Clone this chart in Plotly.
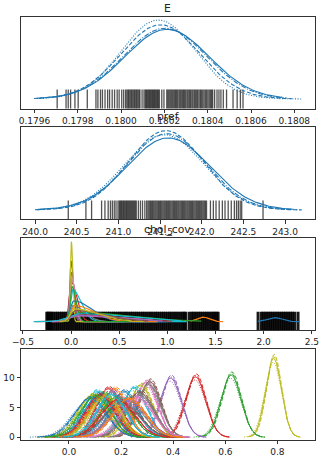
import numpy as np
import plotly.graph_objects as go

# ---------------- data ----------------
# E : four chains (solid, dashed, dotted, dash-dot)
E_center = [0.180212, 0.180182, 0.180172, 0.180203]
E_sd = [0.000195, 0.000183, 0.000172, 0.000192]
E_lo = [0.179620, 0.179598, 0.179640, 0.179610]
E_hi = [0.180745, 0.180790, 0.180834, 0.180765]
E_rug = [0.179705, 0.179746, 0.179756, 0.179767, 0.179787, 0.179802, 0.179844,
         0.179884, 0.179893, 0.179905, 0.179914, 0.179926, 0.179938, 0.179947, 0.179959,
         0.179970, 0.179982, 0.179991, 0.180003, 0.180012, 0.180021,
         0.180027, 0.180032, 0.180036, 0.180041, 0.180046, 0.180050, 0.180055, 0.180060,
         0.180064, 0.180069, 0.180073, 0.180078, 0.180083, 0.180087,
         0.180097, 0.180106,
         0.180112, 0.180117, 0.180121, 0.180126, 0.180131, 0.180135, 0.180140, 0.180145,
         0.180149, 0.180154, 0.180158, 0.180163, 0.180168, 0.180172, 0.180177,
         0.180188, 0.180198,
         0.180211, 0.180216, 0.180221, 0.180226, 0.180231, 0.180236, 0.180241, 0.180247,
         0.180252, 0.180257, 0.180262, 0.180268, 0.180273, 0.180278, 0.180284, 0.180289,
         0.180294, 0.180299, 0.180305, 0.180310, 0.180316, 0.180321, 0.180327, 0.180332,
         0.180338, 0.180343, 0.180349, 0.180354, 0.180360, 0.180366, 0.180371, 0.180377,
         0.180383, 0.180389, 0.180395, 0.180401, 0.180407, 0.180413, 0.180418, 0.180423,
         0.180432, 0.180443, 0.180452, 0.180461, 0.180472, 0.180487,
         0.180517, 0.180536, 0.180551, 0.180563]

# pref : four chains
pref_center = [241.60, 241.57, 241.55, 241.58]
pref_sd = [0.497, 0.452, 0.476, 0.470]
pref_lo = [240.02, 240.00, 240.06, 240.03]
pref_hi = [243.10, 243.20, 243.02, 243.15]
pref_rug = [240.399, 240.611, 240.679, 240.799, 240.839, 240.878,
            240.905, 240.928, 240.951, 240.972, 240.996, 241.012,
            241.024, 241.036, 241.047, 241.060, 241.071, 241.083, 241.096, 241.107,
            241.119, 241.131, 241.143, 241.155, 241.167, 241.179, 241.191, 241.203, 241.215,
            241.240, 241.265, 241.290, 241.318, 241.340,
            241.356, 241.370, 241.384, 241.398, 241.411, 241.425, 241.439, 241.452,
            241.466, 241.480, 241.494, 241.507, 241.521, 241.535, 241.549, 241.562,
            241.576, 241.590, 241.604, 241.617, 241.631, 241.645, 241.659, 241.672,
            241.686, 241.700, 241.714, 241.727, 241.741, 241.755, 241.769, 241.782,
            241.796, 241.810, 241.824, 241.837, 241.851, 241.865, 241.879, 241.892,
            241.906, 241.920, 241.934, 241.947, 241.961, 241.975, 241.989, 242.002,
            242.016, 242.030, 242.044, 242.058,
            242.105, 242.140, 242.172, 242.210, 242.248, 242.280, 242.318, 242.355,
            242.392, 242.418, 242.440, 242.462, 242.480, 242.736]

# chol_cov : one density per element
chol_color = ["#1f77b4", "#ff7f0e", "#2ca02c", "#d62728", "#9467bd", "#8c564b",
              "#e377c2", "#7f7f7f", "#bcbd22", "#17becf", "#1f77b4", "#ff7f0e",
              "#2ca02c", "#d62728", "#e377c2", "#9467bd", "#17becf", "#8c564b",
              "#bcbd22"]
chol_center = [2.115, 1.37, 0.03, 0.0, 0.003, 0.0, 0.006, 0.02, 0.003, 0.015,
               0.03, 0.04, 0.01, 0.05, 0.06, 0.08, 0.10, 0.05, 0.03]
chol_sd_left = [0.075, 0.06, 0.05, 0.02, 0.015, 0.012, 0.016, 0.03, 0.010, 0.022,
                0.04, 0.04, 0.018, 0.06, 0.08, 0.10, 0.12, 0.05, 0.04]
chol_sd_right = [0.08, 0.065, 0.55, 0.06, 0.03, 0.025, 0.035, 0.12, 0.014, 0.09,
                 0.18, 0.20, 0.04, 0.45, 0.50, 0.40, 0.50, 0.30, 0.25]
chol_peak = [1.25, 1.45, 3.0, 12.5, 15.5, 19.0, 14.0, 5.0, 25.0, 10.0,
             6.5, 5.0, 11.0, 2.2, 1.8, 2.0, 2.5, 3.5, 4.0]
chol_lo = [1.94, 1.24, -0.08, -0.37, -0.15, -0.12, -0.18, -0.20, -0.10, -0.39,
           -0.22, -0.15, -0.10, -0.20, -0.20, -0.15, -0.25, -0.10, -0.12]
chol_hi = [2.374, 1.58, 1.354, 0.45, 0.55, 0.50, 0.80, 0.90, 0.35, 1.20,
           1.00, 0.90, 0.60, 1.05, 0.85, 0.95, 1.15, 0.80, 0.75]
chol_rug = [-0.252, -0.241, -0.229, -0.214,
            -0.200, -0.181, -0.160, -0.141, -0.121, -0.100, -0.081, -0.061, -0.040, -0.021,
            -0.001, 0.019, 0.040, 0.059, 0.080, 0.099, 0.120, 0.139, 0.160, 0.180, 0.199,
            0.220, 0.241, 0.259, 0.280, 0.300, 0.321, 0.339, 0.360, 0.381, 0.399, 0.420,
            0.440, 0.459, 0.480, 0.501, 0.519, 0.540, 0.560, 0.579, 0.600, 0.621, 0.639,
            0.660, 0.680, 0.699, 0.720, 0.741, 0.759, 0.780, 0.800, 0.821, 0.839, 0.860,
            0.880, 0.899, 0.920, 0.941, 0.959, 0.980, 1.000, 1.021, 1.039, 1.060, 1.080,
            1.099, 1.120, 1.140, 1.159, 1.176, 1.190,
            1.226, 1.251, 1.268, 1.287, 1.306, 1.326, 1.345, 1.364, 1.384, 1.403, 1.422,
            1.442, 1.461, 1.479, 1.494, 1.512, 1.527,
            1.942, 1.977, 1.996, 2.015, 2.034, 2.053, 2.072, 2.091, 2.110, 2.129, 2.148,
            2.167, 2.186, 2.205, 2.224, 2.243, 2.262, 2.281, 2.300, 2.322, 2.357]

# fourth variable : one density per element, four chains each
w_center = [0.785, 0.622, 0.485, 0.39, 0.31, 0.295, 0.305, 0.275, 0.25, 0.27,
            0.21, 0.175, 0.15, 0.165, 0.13, 0.105, 0.115, 0.09, 0.20, 0.22,
            0.13, 0.12, 0.18, 0.20, 0.23, 0.20, 0.27, 0.26, 0.08, 0.14,
            0.10, 0.185, 0.23, 0.16]
w_peak = [13.2, 10.4, 10.1, 9.9, 9.3, 9.1, 8.8, 8.6, 8.2, 7.5,
          7.6, 8.0, 8.1, 7.6, 7.3, 7.6, 7.2, 7.0, 6.5, 6.3,
          6.8, 7.0, 6.6, 6.2, 6.0, 5.8, 7.0, 6.6, 6.5, 6.9,
          6.9, 6.2, 6.4, 7.1]
w_color = ["#bcbd22", "#2ca02c", "#d62728", "#9467bd", "#8c564b", "#e377c2", "#7f7f7f",
           "#bcbd22", "#17becf", "#8c564b", "#1f77b4", "#ff7f0e", "#d62728", "#9467bd",
           "#2ca02c", "#17becf", "#1f77b4", "#bcbd22", "#e377c2", "#7f7f7f", "#ff7f0e",
           "#d62728", "#2ca02c", "#17becf", "#9467bd", "#8c564b", "#7f7f7f", "#e377c2",
           "#1f77b4", "#bcbd22", "#2ca02c", "#d62728", "#ff7f0e", "#17becf"]

chain_dash = ["solid", "4px,2px", "1px,1.6px", "5px,1.6px,1px,1.6px"]
chain_peak = [1.0, 1.05, 0.95, 1.02]
chain_shift = [0.0, 0.08, -0.06, 0.04]
chain_lo = [3.3, 3.0, 3.5, 3.1]
chain_hi = [3.2, 3.5, 3.0, 3.4]

titles = ["E", "pref", "chol_cov"]

# ---------------- figure ----------------
W, H = 322, 458
SQ2PI = np.sqrt(2 * np.pi)
FONT = "DejaVu Sans"
BLUE = "#1f77b4"


def gauss(c, sd, lo, hi, n=160):
    x = np.linspace(lo, hi, n)
    return x, np.exp(-0.5 * ((x - c) / sd) ** 2) / (sd * SQ2PI)


def split_gauss(c, sl, sr, pk, lo, hi, n=220):
    x = np.linspace(lo, hi, n)
    s = np.where(x < c, sl, sr)
    return x, pk * np.exp(-0.5 * ((x - c) / s) ** 2)


fig = go.Figure()


def rug(vals, ax, size, width, color):
    fig.add_trace(go.Scatter(x=vals, y=[0] * len(vals), mode="markers",
                             xaxis="x" + ax, yaxis="y" + ax, hoverinfo="skip",
                             marker=dict(symbol="line-ns-open", size=size, color=color,
                                         line=dict(width=width, color=color))))


# panel 1
rug(E_rug, "", 13.6, 1.3, "rgba(0,0,0,0.68)")
E_max = 0
for i in range(4):
    x, y = gauss(E_center[i], E_sd[i], E_lo[i], E_hi[i])
    E_max = max(E_max, y.max())
    fig.add_trace(go.Scatter(x=x, y=y, mode="lines", xaxis="x", yaxis="y",
                             line=dict(color=BLUE, width=1.1, dash=chain_dash[i])))
# panel 2
rug(pref_rug, "2", 13.6, 1.3, "rgba(0,0,0,0.68)")
p_max = 0
for i in range(4):
    x, y = gauss(pref_center[i], pref_sd[i], pref_lo[i], pref_hi[i])
    p_max = max(p_max, y.max())
    fig.add_trace(go.Scatter(x=x, y=y, mode="lines", xaxis="x2", yaxis="y2",
                             line=dict(color=BLUE, width=1.1, dash=chain_dash[i])))
# panel 3
rug(chol_rug, "3", 14.3, 3, "rgba(0,0,0,0.9)")
c_max = 0
for i in range(len(chol_center)):
    x, y = split_gauss(chol_center[i], chol_sd_left[i], chol_sd_right[i], chol_peak[i],
                       chol_lo[i], chol_hi[i])
    c_max = max(c_max, y.max())
    fig.add_trace(go.Scatter(x=x, y=y, mode="lines", xaxis="x3", yaxis="y3",
                             line=dict(color=chol_color[i], width=1.2)))
# panel 4
for i in range(len(w_center)):
    sd0 = 1.0 / (w_peak[i] * SQ2PI)
    for c in range(4):
        sd = sd0 / chain_peak[c]
        cen = w_center[i] + chain_shift[c] * sd0
        x, y = gauss(cen, sd, cen - chain_lo[c] * sd, cen + chain_hi[c] * sd)
        fig.add_trace(go.Scatter(x=x, y=y, mode="lines", xaxis="x4", yaxis="y4",
                                 line=dict(color=w_color[i], width=1.0, dash=chain_dash[c])))


def ydom(top, bot):
    return [1 - bot / H, 1 - top / H]


def yrange(vmax, top, bot, base, peak):
    u = vmax / (base - peak)
    return [-(bot - base) * u, (base - top) * u]


XD = [21 / W, 314.7 / W]
ax_style = dict(showline=True, linecolor="#333", linewidth=0.9, mirror=True,
                ticks="outside", ticklen=3.5, tickwidth=0.9, tickcolor="#333",
                tickfont=dict(family=FONT, size=9, color="#222"),
                showgrid=False, zeroline=False, automargin=False)
ny = dict(ax_style, ticks="", showticklabels=False)

panels = [(16.7, 109, 99, 20), (127.3, 219.3, 210, 130.7), (238.3, 330, 321.7, 241.7),
          (349.3, 440, None, None)]

fig.update_layout(
    width=W, height=H, margin=dict(l=0, r=0, t=0, b=0, autoexpand=False),
    paper_bgcolor="white", plot_bgcolor="white", showlegend=False,
    xaxis=dict(ax_style, domain=XD, anchor="y", range=[0.179538, 0.180894],
               dtick=0.0002, tick0=0.1796, tickformat=".4f"),
    yaxis=dict(ny, domain=ydom(*panels[0][:2]), anchor="x",
               range=yrange(E_max, *panels[0])),
    xaxis2=dict(ax_style, domain=XD, anchor="y2", range=[239.832, 243.356],
                dtick=0.5, tick0=240, tickformat=".1f"),
    yaxis2=dict(ny, domain=ydom(*panels[1][:2]), anchor="x2",
                range=yrange(p_max, *panels[1])),
    xaxis3=dict(ax_style, domain=XD, anchor="y3", range=[-0.52, 2.53],
                dtick=0.5, tick0=0, tickformat=".1f"),
    yaxis3=dict(ny, domain=ydom(*panels[2][:2]), anchor="x3",
                range=yrange(c_max, *panels[2])),
    xaxis4=dict(ax_style, domain=XD, anchor="y4", range=[-0.184, 0.943],
                dtick=0.2, tick0=0, tickformat=".1f"),
    yaxis4=dict(ax_style, domain=ydom(*panels[3][:2]), anchor="x4", range=[-0.45, 14.7],
                tickvals=[0, 5, 10]),
)

title_y = [8, 116.5, 230]
for t, yp in zip(titles, title_y):
    fig.add_annotation(text=t, x=(XD[0] + XD[1]) / 2, y=1 - yp / H, xref="paper",
                       yref="paper", showarrow=False, xanchor="center", yanchor="middle",
                       font=dict(family=FONT, size=10.8, color="#222"))

fig.write_html("out.html", config={"displayModeBar": False},
               post_script="document.body.style.margin='0';"
                           "document.body.style.overflow='hidden';")
